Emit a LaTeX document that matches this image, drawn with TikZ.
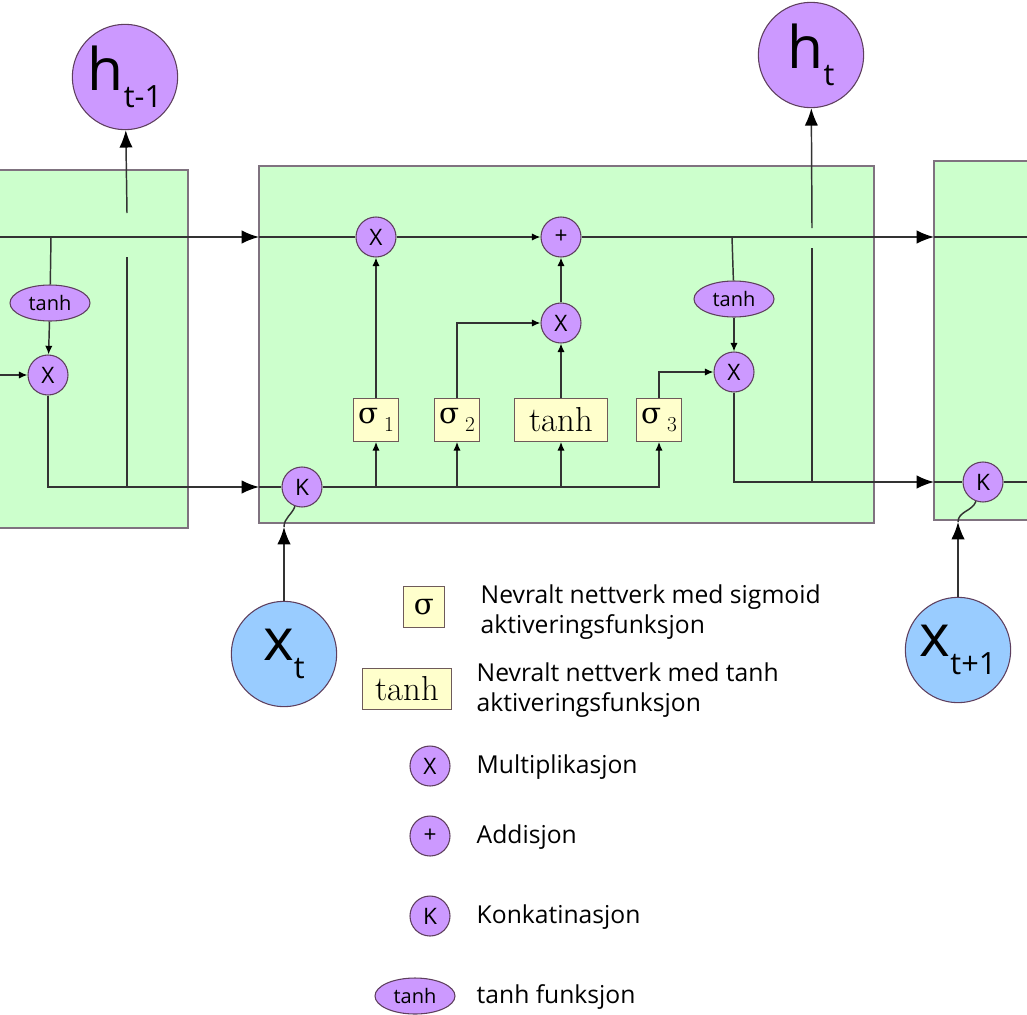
\documentclass[tikz,border=0pt]{standalone}
\usepackage{fontspec}
\setsansfont{Open Sans}
\newfontfamily\greekserif{DejaVu Serif}
\usetikzlibrary{arrows.meta, positioning, shapes.geometric}
\definecolor{cellgreen}{HTML}{CCFFCC}
\definecolor{cellborder}{HTML}{7F727F}
\definecolor{oppurple}{HTML}{CC99FF}
\definecolor{opborder}{HTML}{5E3F5E}
\definecolor{inblue}{HTML}{99CCFF}
\definecolor{netyellow}{HTML}{FFFFCC}
\definecolor{netborder}{HTML}{6E5A5A}
\definecolor{wiregray}{HTML}{333333}
\begin{document}
\begin{tikzpicture}[
  x=0.75pt, y=-0.75pt,
  cell/.style={draw=cellborder, fill=cellgreen, line width=1.1pt},
  op/.style={circle, draw=opborder, fill=oppurple, line width=0.8pt, minimum size=30pt, inner sep=0pt, font=\sffamily\fontsize{17}{17}\selectfont},
  fun/.style={ellipse, draw=opborder, fill=oppurple, line width=0.8pt, minimum width=60pt, minimum height=27pt, inner sep=0pt, font=\sffamily\fontsize{15}{15}\selectfont},
  net/.style={draw=netborder, fill=netyellow, line width=0.8pt, minimum height=32pt, minimum width=34pt, inner sep=1pt, font=\fontsize{26}{26}\selectfont},
  state/.style={circle, draw=opborder, fill=oppurple, line width=0.8pt, minimum size=79pt, inner sep=0pt, font=\sffamily},
  input/.style={state, fill=inblue},
  legtext/.style={anchor=west, align=left, font=\sffamily\fontsize{18.5}{23}\selectfont},
  wire/.style={draw=wiregray, line width=1.1pt},
  arr/.style={wire, -{Latex[length=6.5pt, width=5.5pt, black]}},
  bigarr/.style={wire, -{Latex[length=13pt, width=10pt, black]}}
]
\useasboundingbox (0,0) rectangle (1027,1014);
\clip (0,0) rectangle (1027,1014);

\draw[cell] (-10,170) rectangle (188,528);
\draw[cell] (259,166) rectangle (874,523);
\draw[cell] (934,161) rectangle (1040,520);

\newcommand{\statelabel}[2]{{\fontsize{44}{44}\selectfont #1}\raisebox{-13pt}{\fontsize{23}{23}\selectfont #2}}
\newcommand{\sigmaglyph}{{\greekserif\fontsize{22}{22}\selectfont σ}}
\newcommand{\gatelabel}[1]{\sigmaglyph\,\raisebox{-6pt}{\fontsize{16}{16}\selectfont #1}}
\node[state] (hprev) at (125,77) {\statelabel{h}{t-1}};
\node[state] (hcur) at (811,55) {\statelabel{h}{t}};
\node[input] (xcur) at (284,654) {\statelabel{x}{t}};
\node[input] (xnext) at (958,650) {\statelabel{x}{t+1}};

\node[fun] (prevtanh) at (50,303) {tanh};
\node[op] (prevmul) at (48,375) {X};

\node[op] (mulforget) at (376,237) {X};
\node[op] (addcell) at (561,237) {+};
\node[op] (mulin) at (561,323) {X};
\node[net] (sig1) at (376,420) {\gatelabel{1}};
\node[net] (sig2) at (457,420) {\gatelabel{2}};
\node[net, minimum width=70pt] (tanhnet) at (561,420) {tanh};
\node[net] (sig3) at (659,420) {\gatelabel{3}};
\node[fun] (tanhout) at (734,299) {tanh};
\node[op] (mulout) at (734,372) {X};
\node[op] (concat) at (302,487) {K};
\node[op] (nextconcat) at (983,482) {K};

\coordinate (cellstart) at (0,237);
\coordinate (cellin) at (259,237);
\coordinate (cellout) at (934,237);
\coordinate (cellend) at (1027,237);
\coordinate (prevbranch) at (51,237);
\coordinate (prevfeed) at (0,375);
\coordinate (hiddenin) at (259,487);
\coordinate (hiddenout) at (934,482);
\coordinate (hiddenend) at (1027,482);
\coordinate (outbranch) at (732,237);
\coordinate (hprevlow) at (127,487);
\coordinate (hprevgapa) at (127,257);
\coordinate (hprevgapb) at (127,213);
\coordinate (hcurlow) at (812,482);
\coordinate (hcurgapa) at (812,248);
\coordinate (hcurgapb) at (812,228);
\coordinate (xtip) at (284,527);
\coordinate (xnexttip) at (958,522);

\draw[bigarr] (cellstart) -- (cellin);
\draw[wire] (cellin) -- (mulforget);
\draw[arr] (mulforget) -- (addcell);
\draw[bigarr] (addcell) -- (cellout);
\draw[wire] (cellout) -- (cellend);
\draw[wire] (prevbranch) -- (prevtanh);
\draw[arr] (prevtanh) -- (prevmul);
\draw[arr] (prevfeed) -- (prevmul);
\draw[bigarr] (prevmul) |- (hiddenin);
\draw[wire] (hiddenin) -- (concat);
\draw[wire] (hprevlow) -- (hprevgapa);
\draw[bigarr] (hprevgapb) -- (hprev);

\draw[arr] (concat) -| (sig3);
\draw[arr] (sig1 |- concat) -- (sig1);
\draw[arr] (sig2 |- concat) -- (sig2);
\draw[arr] (tanhnet |- concat) -- (tanhnet);
\draw[arr] (sig1) -- (mulforget);
\draw[arr] (sig2) |- (mulin);
\draw[arr] (tanhnet) -- (mulin);
\draw[arr] (mulin) -- (addcell);
\draw[arr] (sig3) |- (mulout);
\draw[wire] (outbranch) -- (tanhout);
\draw[arr] (tanhout) -- (mulout);
\draw[bigarr] (mulout) |- (hiddenout);
\draw[wire] (hiddenout) -- (nextconcat);
\draw[wire] (nextconcat) -- (hiddenend);
\draw[wire] (hcurlow) -- (hcurgapa);
\draw[bigarr] (hcurgapb) -- (hcur);

\draw[bigarr] (xcur) -- (xtip);
\draw[wire] (xtip) to[out=90, in=250] (concat.250);
\draw[bigarr] (xnext) -- (xnexttip);
\draw[wire] (xnexttip) to[out=90, in=250] (nextconcat.250);

\node[net, minimum width=31pt, minimum height=31pt] (legsig) at (424,607) {\sigmaglyph};
\node[net, minimum width=67pt, minimum height=31pt] (legtanh) at (407,689) {tanh};
\node[op] (legmul) at (430,766) {X};
\node[op] (legadd) at (430,836) {+};
\node[op] (legcat) at (430,916) {K};
\node[fun] (legfun) at (415,996) {tanh};

\node[legtext] (legsigtext) at (476,612) {Nevralt nettverk med sigmoid\\aktiveringsfunksjon};
\node[legtext] (legtanhtext) at (472,690) {Nevralt nettverk med tanh\\aktiveringsfunksjon};
\node[legtext] (legmultext) at (472,767) {Multiplikasjon};
\node[legtext] (legaddtext) at (472,837) {Addisjon};
\node[legtext] (legcattext) at (472,917) {Konkatinasjon};
\node[legtext] (legfuntext) at (472,997) {tanh funksjon};
\end{tikzpicture}
\end{document}
